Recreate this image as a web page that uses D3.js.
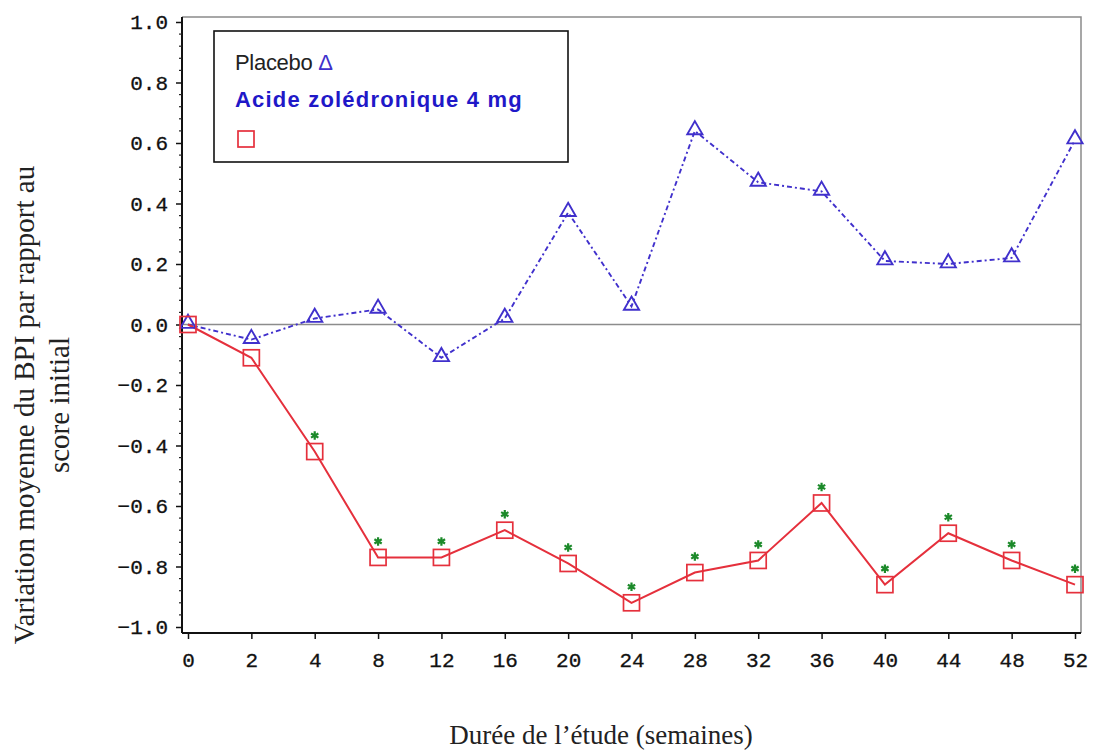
<!DOCTYPE html>
<html>
<head>
<meta charset="utf-8">
<script src="https://cdn.jsdelivr.net/npm/d3@7"></script>
<style>
    body { margin: 0; background: #fff; }
    svg { display: block; }
</style>
</head>
<body>
<div id="chart"></div>
<script>
    "use strict";
    // semaines de l'étude
    var weeks = ["0", "2", "4", "8", "12", "16", "20", "24", "28", "32", "36", "40", "44", "48", "52"];
    var placebo = [0.00, -0.05, 0.02, 0.05, -0.11, 0.02, 0.37, 0.06, 0.64, 0.47, 0.44, 0.21, 0.20, 0.22, 0.61];
    var zoledronic = [0.00, -0.11, -0.42, -0.77, -0.77, -0.68, -0.79, -0.92, -0.82, -0.78, -0.59, -0.86, -0.69, -0.78, -0.86];
    // significatif (*) pour l'acide zolédronique
    var significant = [false, false, true, true, true, true, true, true, true, true, true, true, true, true, true];
    var yTicks = [-1.0, -0.8, -0.6, -0.4, -0.2, 0.0, 0.2, 0.4, 0.6, 0.8, 1.0];

    var chartWidth = 1093, chartHeight = 753;
    var plotLeft = 182, plotRight = 1081, plotTop = 17, plotBottom = 633;
    var blue = "#4030cc", red = "#e5303c", green = "#1c8a2a";

    var svg = d3.select("#chart")
        .append("svg")
        .attr("width", chartWidth)
        .attr("height", chartHeight);

    var x = d3.scalePoint()
        .domain(weeks)
        .range([188, 1075]);

    var y = d3.scaleLinear()
        .domain([-1, 1])
        .range([627, 22]);

    // cadre gris haut / droite
    svg.append("path")
        .attr("d", "M" + plotLeft + "," + plotTop + "H" + plotRight + "V" + plotBottom)
        .attr("fill", "none")
        .attr("stroke", "#8a8a8a")
        .attr("stroke-width", 1.5);

    // ligne zéro
    svg.append("line")
        .attr("x1", plotLeft).attr("x2", plotRight)
        .attr("y1", y(0)).attr("y2", y(0))
        .attr("stroke", "#8c8c8c")
        .attr("stroke-width", 1.5);

    // axe Y
    var yAxis = svg.append("g")
        .attr("transform", "translate(" + plotLeft + ",0)")
        .call(d3.axisLeft(y)
            .tickValues(yTicks)
            .tickSize(6)
            .tickPadding(8)
            .tickFormat(function(d) { return d3.format(".1f")(d).replace("-", "\u2212"); }));

    // petites graduations
    svg.append("g")
        .selectAll("line")
        .data(d3.range(-1, 1.0001, 0.04).filter(function(v) {
            return Math.abs(Math.round(v * 5) - v * 5) > 0.01;
        }))
        .enter()
        .append("line")
        .attr("x1", plotLeft - 3).attr("x2", plotLeft)
        .attr("y1", function(d) { return y(d); })
        .attr("y2", function(d) { return y(d); })
        .attr("stroke", "#222")
        .attr("stroke-width", 1.2);

    // axe X
    var xAxis = svg.append("g")
        .attr("transform", "translate(0," + plotBottom + ")")
        .call(d3.axisBottom(x).tickSize(6).tickPadding(10).tickSizeOuter(0));

    [yAxis, xAxis].forEach(function(ax) {
        ax.select(".domain").attr("stroke", "#111").attr("stroke-width", 2);
        ax.selectAll(".tick line").attr("stroke", "#111").attr("stroke-width", 1.5);
        ax.selectAll("text")
            .attr("fill", "#111")
            .attr("stroke", "#111")
            .attr("stroke-width", 0.3)
            .style("font-family", "'Liberation Mono', 'DejaVu Sans Mono', monospace")
            .style("font-size", "21px");
    });
    yAxis.select(".domain").attr("d", "M0," + plotTop + "V" + plotBottom);
    xAxis.select(".domain").attr("d", "M" + plotLeft + ",0H" + plotRight);
    xAxis.selectAll("text").attr("dy", "0.85em");

    var line = d3.line()
        .x(function(d, i) { return x(weeks[i]); })
        .y(function(d) { return y(d); });

    // placebo
    svg.append("path")
        .datum(placebo)
        .attr("d", line)
        .attr("fill", "none")
        .attr("stroke", blue)
        .attr("stroke-width", 1.9)
        .attr("stroke-dasharray", "5,3,2,3");

    // acide zolédronique
    svg.append("path")
        .datum(zoledronic)
        .attr("d", line)
        .attr("fill", "none")
        .attr("stroke", red)
        .attr("stroke-width", 2);

    svg.append("g")
        .selectAll("path")
        .data(placebo)
        .enter()
        .append("path")
        .attr("d", d3.symbol().type(d3.symbolTriangle).size(100))
        .attr("transform", function(d, i) { return "translate(" + x(weeks[i]) + "," + (y(d) - 1) + ")"; })
        .attr("fill", "none")
        .attr("stroke", blue)
        .attr("stroke-width", 1.9);

    svg.append("g")
        .selectAll("rect")
        .data(zoledronic)
        .enter()
        .append("rect")
        .attr("x", function(d, i) { return x(weeks[i]) - 8; })
        .attr("y", function(d) { return y(d) - 8; })
        .attr("width", 16)
        .attr("height", 16)
        .attr("fill", "none")
        .attr("stroke", red)
        .attr("stroke-width", 1.7);

    svg.append("g")
        .selectAll("path")
        .data(zoledronic.map(function(v, i) { return { v: v, i: i }; })
            .filter(function(d) { return significant[d.i]; }))
        .enter()
        .append("path")
        .attr("d", d3.symbol().type(d3.symbolAsterisk).size(50))
        .attr("transform", function(d) { return "translate(" + x(weeks[d.i]) + "," + (y(d.v) - 16) + ")"; })
        .attr("fill", "none")
        .attr("stroke", green)
        .attr("stroke-width", 2.2);

    // légende
    var legend = svg.append("g");
    legend.append("rect")
        .attr("x", 214).attr("y", 31)
        .attr("width", 354).attr("height", 131)
        .attr("fill", "#fff")
        .attr("stroke", "#111")
        .attr("stroke-width", 1.6);
    var t1 = legend.append("text")
        .attr("x", 235).attr("y", 70)
        .style("font-family", "'Liberation Sans', Arial, sans-serif")
        .style("font-size", "22px")
        .style("letter-spacing", "-0.3px")
        .attr("fill", "#222");
    t1.append("tspan").text("Placebo ");
    t1.append("tspan").attr("fill", blue).text("\u0394");
    legend.append("text")
        .attr("x", 235).attr("y", 107)
        .style("font-family", "'Liberation Sans', Arial, sans-serif")
        .style("font-size", "22px")
        .style("font-weight", "bold")
        .style("letter-spacing", "1.2px")
        .attr("fill", "#1f18c8")
        .text("Acide zolédronique 4 mg");
    legend.append("rect")
        .attr("x", 238).attr("y", 131)
        .attr("width", 16).attr("height", 16)
        .attr("fill", "none")
        .attr("stroke", red)
        .attr("stroke-width", 1.7);

    // titres des axes
    var yTitle = svg.append("text")
        .attr("transform", "translate(34,405) rotate(-90)")
        .attr("text-anchor", "middle")
        .style("font-family", "'Liberation Serif', 'Times New Roman', serif")
        .style("font-size", "29px")
        .attr("fill", "#222");
    yTitle.append("tspan").attr("x", 0).attr("y", 0).text("Variation moyenne du BPI par rapport au");
    yTitle.append("tspan").attr("x", 0).attr("y", 35).text("score initial");

    svg.append("text")
        .attr("x", 601).attr("y", 744)
        .attr("text-anchor", "middle")
        .style("font-family", "'Liberation Serif', 'Times New Roman', serif")
        .style("font-size", "27px")
        .attr("fill", "#222")
        .text("Durée de l\u2019étude (semaines)");
</script>
</body>
</html>
